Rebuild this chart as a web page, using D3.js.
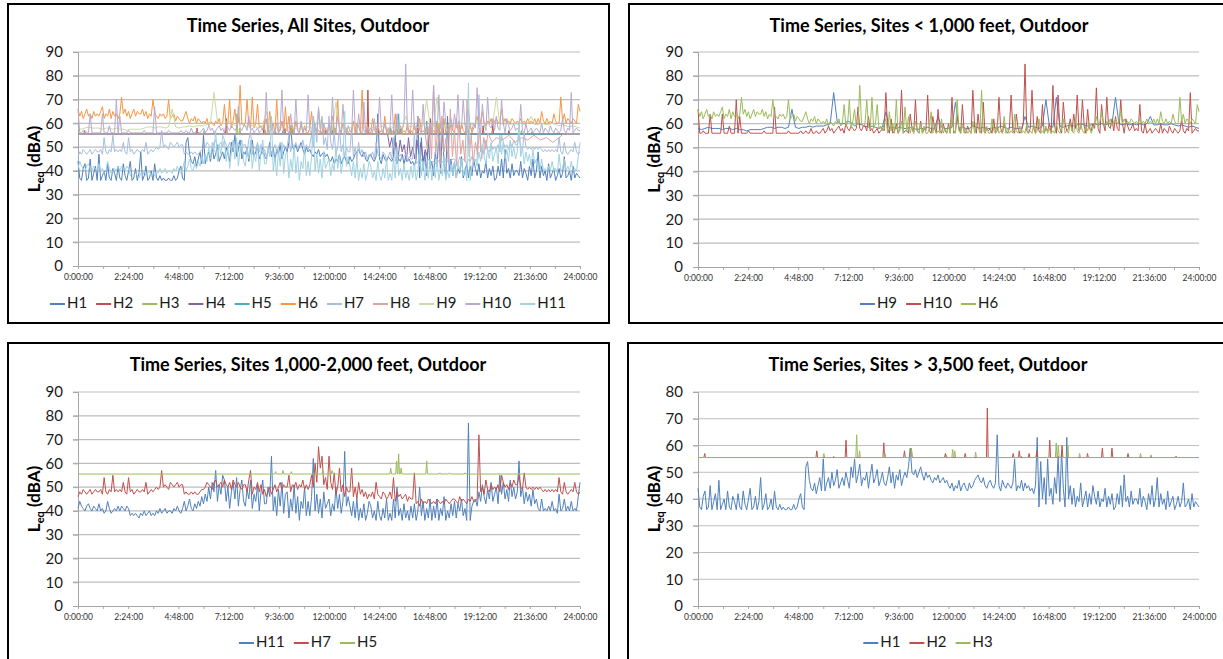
<!DOCTYPE html>
<html><head><meta charset="utf-8">
<script src="https://cdn.jsdelivr.net/npm/d3@7"></script>
<style>body{margin:0;background:#fff}svg{display:block}</style>
</head><body>
<svg id="c" width="1223" height="659"></svg>
<script>
// ---------------- DATA ----------------
const timeLabels = ["0:00:00","2:24:00","4:48:00","7:12:00","9:36:00","12:00:00","14:24:00","16:48:00","19:12:00","21:36:00","24:00:00"];
const yTicks90 = [0,10,20,30,40,50,60,70,80,90];
const yTicks80 = [0,10,20,30,40,50,60,70,80];
const panelTitles = ["Time Series, All Sites, Outdoor","Time Series, Sites < 1,000 feet, Outdoor","Time Series, Sites 1,000-2,000 feet, Outdoor","Time Series, Sites > 3,500 feet, Outdoor"];
const allSites = ["H1","H2","H3","H4","H5","H6","H7","H8","H9","H10","H11"];
const sitesNear = ["H9","H10","H6"];
const sitesMid = ["H11","H7","H5"];
const sitesFar = ["H1","H2","H3"];

// 5-minute Leq values (dBA), 0:00 .. 24:00 (one row per hour)
const H1 = [
44,37,36,41,43,36,37,45,36,39,42,36,
47,36,38,40,36,43,37,36,41,39,36,42,
37,36,43,38,36,40,44,36,37,41,36,39,
48,36,38,42,36,37,40,36,43,37,36,38,
36,37,36,36,37,36,36,38,36,37,40,42,
37,36,52,54,47,44,43,46,42,45,48,43,
55,43,46,48,44,50,45,47,51,44,46,48,
45,50,47,44,52,48,55,46,49,53,45,48,
47,50,44,49,53,46,48,51,45,47,50,46,
45,48,52,46,50,44,49,47,51,45,48,50,
48,52,59,50,49,51,48,50,52,49,47,50,
48,49,47,46,48,47,49,46,47,48,46,47,
45,44,46,43,45,44,47,43,45,46,44,43,
46,44,45,47,48,49,47,46,48,45,44,46,
47,45,44,46,64,45,43,47,45,44,46,45,
44,46,55,43,45,44,47,43,46,44,45,43,
44,42,45,63,37,54,40,48,38,55,41,44,
38,48,42,56,39,58,44,37,63,40,45,38,
44,37,41,39,46,37,40,43,37,42,38,45,
41,38,43,37,40,39,44,37,41,38,42,36,
37,42,38,45,37,49,39,41,37,43,38,40,
40,38,44,37,41,39,36,42,38,45,37,40,
48,37,42,38,40,36,43,37,39,41,36,38,
41,37,39,46,37,38,40,36,42,37,39,38, 37];
const H6 = [
66,63,65,62,64,66,63,64,62,65,63,64,
63,65,67,62,64,63,66,62,65,63,64,62,
64,71,64,66,63,65,62,64,66,63,65,64,
64,66,63,65,62,64,63,70,64,63,62,64,
63,64,62,63,70,62,63,64,61,63,62,61,
61,63,65,62,60,62,61,63,60,62,61,60,
61,60,62,59,61,60,59,61,60,62,59,60,
68,59,60,70,58,61,66,59,60,76,60,59,
60,70,59,58,71,58,60,68,58,59,57,60,
62,56,65,57,60,56,70,56,57,61,56,67,
57,63,56,59,56,61,57,56,60,56,59,56,
56,58,65,56,60,56,57,56,62,56,58,56,
59,56,63,57,56,70,57,56,60,56,58,56,
57,56,61,56,60,59,56,74,57,56,59,56,
56,62,57,56,60,56,57,56,63,56,58,56,
57,56,64,57,56,59,56,57,56,60,56,57,
56,60,56,57,62,56,57,56,59,56,58,56,
57,56,60,57,56,58,62,56,57,56,60,57,
56,62,57,56,60,57,56,59,57,60,56,58,
60,63,59,61,65,60,59,61,60,62,59,61,
62,60,61,66,60,62,60,61,60,62,61,60,
61,60,62,60,61,60,62,60,61,60,62,60,
62,60,65,61,60,62,60,61,60,64,61,60,
60,71,61,64,60,62,61,60,62,61,60,68, 65];
const H7 = [
46,48,47,49,48,47,48,49,47,48,49,48,
48,49,47,54,48,47,49,48,55,48,49,48,
49,48,52,48,47,54,48,49,47,48,49,48,
48,49,48,52,47,48,49,48,49,50,49,50,
57,50,51,50,49,52,51,50,51,52,50,51,
51,47,48,47,47,48,47,48,47,47,48,49,
49,50,52,51,50,49,52,53,50,51,52,50,
53,51,50,52,49,53,51,50,52,50,49,51,
51,48,53,57,47,50,49,52,48,51,47,49,
46,48,50,47,49,51,48,50,52,49,51,50,
50,55,48,51,50,52,49,51,50,53,49,51,
49,51,55,50,60,52,67,58,63,51,54,49,
63,52,49,56,47,50,58,48,51,46,50,48,
48,58,46,50,45,52,47,49,46,48,45,47,
46,48,45,52,47,46,45,48,47,45,46,48,
45,54,44,48,46,47,45,46,47,44,46,45,
45,56,43,44,42,45,43,44,43,45,44,43,
44,43,45,44,43,44,43,45,44,43,44,45,
45,44,43,46,44,45,44,43,45,44,46,44,
44,45,72,48,50,47,53,49,48,51,49,50,
49,51,48,55,52,50,51,49,52,50,53,51,
51,55,50,49,56,50,49,50,49,50,49,50,
49,50,49,48,49,48,49,48,49,48,49,48,
54,48,47,52,48,47,48,49,48,52,48,47, 48];
const H10 = [
66,56,56,57,56,56,56,64,56,56,56,56,
56,56,64,56,56,56,59,56,56,56,70,56,
63,56,56,56,56,57,56,56,56,56,56,56,
56,56,57,56,56,56,56,56,67,56,56,56,
56,56,56,56,57,56,56,56,56,56,56,57,
56,56,57,56,56,58,56,56,57,56,56,57,
58,56,57,59,57,58,56,57,58,59,57,58,
56,60,58,57,59,58,57,58,67,58,57,59,
59,57,63,57,58,56,57,58,56,57,58,57,
73,58,56,62,56,57,60,56,58,74,56,57,
57,56,64,58,56,70,57,56,61,56,58,57,
72,57,56,63,58,56,66,57,56,60,57,56,
60,56,71,56,57,63,58,56,68,57,56,59,
57,56,74,59,56,64,57,56,69,56,58,57,
58,56,62,56,57,71,58,56,60,57,56,58,
72,57,56,64,58,56,57,60,85,57,56,58,
74,58,56,63,57,56,68,56,58,57,60,56,
76,59,56,72,58,56,69,60,57,58,62,57,
64,58,72,57,58,70,59,56,66,58,57,60,
58,75,58,56,68,60,57,71,59,58,62,57,
63,58,57,70,60,56,62,59,57,58,60,57,
58,57,68,57,56,60,56,57,58,56,57,58,
57,56,60,56,58,57,56,59,57,56,58,57,
56,57,62,57,56,58,57,73,56,57,58,57, 57];
const H11 = [
41,44,42,41,40,42,43,41,40,42,41,40,
43,40,41,39,40,44,41,39,40,41,40,42,
40,42,41,40,42,41,38,39,38,39,38,37,
39,38,40,38,39,40,38,39,38,40,39,41,
39,40,41,39,40,40,39,41,40,42,40,39,
41,44,40,42,45,41,40,43,41,44,42,46,
43,47,44,50,45,52,48,57,44,51,47,55,
53,44,50,41,48,52,45,54,42,49,53,44,
42,49,45,53,41,47,44,51,40,48,53,43,
43,50,46,63,40,46,38,49,42,52,39,47,
48,37,45,40,51,39,46,36,44,41,50,38,
44,38,46,62,40,47,39,45,37,48,41,43,
45,38,43,40,50,41,47,39,44,65,42,46,
42,38,44,37,45,36,41,37,43,36,39,44,
42,37,40,36,44,38,36,41,37,45,36,39,
36,45,37,50,38,41,36,43,37,40,36,42,
37,43,36,40,50,38,44,36,41,37,45,36,
42,37,45,36,41,38,46,36,40,37,43,38,
44,37,43,40,45,38,41,36,77,36,42,44,
45,42,48,44,51,46,43,49,45,52,44,47,
50,43,55,47,52,45,49,44,53,46,50,45,
48,61,46,50,43,48,44,47,42,49,43,45,
41,40,45,40,41,40,42,40,44,40,41,39,
47,40,41,45,40,42,40,44,40,41,40,46, 52];
// 10-minute Leq values (dBA)
const H9 = [
58,57.5,58,58.5,58,58, 58,57.5,58,58,57.5,58, 57.5,57.5,57,57.5,57.5,57.5, 57.5,58,58.5,58.5,58,58.5,
58.5,58,58.5,66,58.5,58, 58.5,58.5,59,58.5,59,59, 59,59.5,60,73,61,60, 60,61,60.5,59,60,59.5,
59,58.5,59,58.5,58,58.5, 65,58,58.5,58,58.5,58, 58,58.5,58,57.5,58,58, 58.5,58,58,63,58.5,58,
58,58.5,69,58,58.5,58, 58,59,58.5,58,58.5,58, 58,58.5,58,59,58.5,58, 58.5,58,58,58,63,58.5,
59,58.5,58,59,70,59, 58.5,71,59,58.5,59,59.5, 59,59.5,60,59.5,59,59.5, 60,59.5,60,59.5,60,60,
71,60,59.5,60,59.5,60, 59.5,60,59.5,60,63,59.5, 59.5,60,59.5,59.5,60,59.5, 59,59.5,59,58.5,59,58.5, 58];

// [hour, dBA] points read as polylines
const H4 = [[0,55.5],[14.8,55.5],[14.9,50],[15.0,54],[15.1,47],[15.2,52],[15.3,45],[15.4,53],[15.5,48],[15.6,51],[15.7,44],[15.8,54],[15.9,46],[16.0,50],[16.1,45],[16.2,53],[16.3,47],[16.4,52],[16.5,44],[16.6,49],[16.7,46],[16.8,55.5],[24,55.5]];
const H8 = [[0,55.5],[16.6,55.5],[16.7,49],[16.8,60],[16.9,45],[17.0,76],[17.1,47],[17.2,58],[17.3,43],[17.4,63],[17.5,48],[17.6,54],[17.7,44],[17.8,66],[17.9,46],[18.0,57],[18.1,42],[18.2,61],[18.3,47],[18.4,53],[18.5,44],[18.6,70],[18.7,46],[18.8,55],[18.9,43],[19.0,52],[19.1,47],[19.2,58],[19.3,45],[19.4,54],[19.5,49],[19.6,56],[19.8,52],[20.0,54],[20.3,53],[20.6,55],[20.9,52],[21.2,54],[21.5,53],[21.8,55],[22.1,53],[22.4,54],[22.7,52],[23.0,54],[23.2,55.5],[24,55.5]];

// flat sites: baseline level + short events [hour, dBA]
const H2_base = 55.5;
const H2_events = [[0.32,57],[5.69,58],[7.09,62],[8.9,61],[9.89,58],[10.22,59],[11.85,57],[12.8,57],[13.86,74],[15.1,57],[15.39,58],[15.86,57],[16.23,58],[16.85,62],[17.44,60],[18.66,57],[19.37,59],[19.83,59],[20.6,57],[22.9,56]];
const H3_base = 55.5;
const H3_events = [[6.03,57],[6.5,56],[7.6,64],[7.74,58],[8.96,57],[10.22,59],[11.9,56.5],[12.2,58.5],[12.3,58],[13.3,57.5],[15.5,56],[17.16,61],[17.26,60],[17.72,60],[18.28,57],[21.2,57],[21.7,56.5]];
const H5_base = 55.5;
const H5_events = [[9.45,56.5],[9.8,57],[10.2,56.5],[11.7,57],[12.15,57],[14.95,58],[15.23,61],[15.33,64],[15.45,58],[16.67,61],[17.3,56],[17.76,56],[18.5,56]];

// ---------------- BUILD ----------------
const gridPts = (arr, perHour) => arr.map((v,i)=>[i/perHour, v]);
const eventPts = (base, ev) => {
  const p = [[0,base]];
  ev.forEach(([t,v]) => { p.push([t-0.04,base],[t,v],[t+0.04,base]); });
  p.push([24,base]);
  return p;
};
const seriesData = {
  H1: gridPts(H1,12), H2: eventPts(H2_base,H2_events), H3: eventPts(H3_base,H3_events),
  H4: H4, H5: eventPts(H5_base,H5_events), H6: gridPts(H6,12), H7: gridPts(H7,12),
  H8: H8, H9: gridPts(H9,6), H10: gridPts(H10,12), H11: gridPts(H11,12)
};
const allColors = {H1:"#4F81BD",H2:"#C0504D",H3:"#9BBB59",H4:"#8064A2",H5:"#4BACC6",H6:"#F79646",
  H7:"#A7BEDE",H8:"#DFA3A2",H9:"#C8DBA3",H10:"#B8AAD0",H11:"#9FD2E2"};
const std3 = ["#4F81BD","#C0504D","#9BBB59"];

const panels = [
  {box:[8,4,601,319], px:[78,580], py:[266,52], yTicks:yTicks90, titleY:27, legY:304, sites:allSites, colors:allSites.map(s=>allColors[s])},
  {box:[629,4,610,319], px:[698,1199], py:[267,52], yTicks:yTicks90, titleY:27, legY:304, sites:sitesNear, colors:std3},
  {box:[8,343,601,330], px:[78,580], py:[606,392], yTicks:yTicks90, titleY:366, legY:643, sites:sitesMid, colors:std3},
  {box:[628,343,610,330], px:[698,1199], py:[606,392], yTicks:yTicks80, titleY:366, legY:643, sites:sitesFar, colors:std3}
];

const svg = d3.select("#c");
const FONT = "Lato, 'Open Sans', sans-serif";

panels.forEach((P, pi) => {
  const g = svg.append("g");
  const [bx,by,bw,bh] = P.box;
  g.append("rect").attr("x",bx).attr("y",by).attr("width",bw).attr("height",bh)
    .attr("fill","#fff").attr("stroke","#000").attr("stroke-width",2);

  const yMax = P.yTicks[P.yTicks.length-1];
  const x = d3.scaleLinear().domain([0,24]).range(P.px);
  const y = d3.scaleLinear().domain([0,yMax]).range(P.py);

  // gridlines
  g.append("g").selectAll("line").data(P.yTicks.filter(d=>d>0)).join("line")
    .attr("x1",P.px[0]-5).attr("x2",P.px[1]).attr("y1",d=>y(d)).attr("y2",d=>y(d))
    .attr("stroke","#BEBEBE").attr("stroke-width",1.2);

  // y axis
  const ya = g.append("g").attr("transform",`translate(${P.px[0]},0)`)
    .call(d3.axisLeft(y).tickValues(P.yTicks).tickSize(5).tickPadding(10));
  ya.select(".domain").attr("stroke","#A6A6A6");
  ya.selectAll(".tick line").attr("stroke","#A6A6A6");
  ya.selectAll("text").attr("font-family",FONT).attr("font-size",15).attr("fill","#1a1a1a");

  // x axis
  const xt = d3.range(21).map(i=>i*1.2);
  const xa = g.append("g").attr("transform",`translate(0,${P.py[0]})`)
    .call(d3.axisBottom(x).tickValues(xt).tickSize(3).tickPadding(5)
      .tickFormat((d,i)=> i%2===0 ? timeLabels[i/2] : ""));
  xa.select(".domain").attr("stroke","#A6A6A6");
  xa.selectAll(".tick line").attr("stroke","#A6A6A6");
  xa.selectAll("text").attr("font-family",FONT).attr("font-size",8.5).attr("fill","#333");

  // series
  const line = d3.line().x(d=>x(d[0])).y(d=>y(d[1]));
  P.sites.forEach((s,si) => {
    g.append("path").datum(seriesData[s]).attr("d",line)
      .attr("fill","none").attr("stroke",P.colors[si]).attr("stroke-width",1)
      .attr("stroke-linejoin","round");
  });

  // title
  g.append("text").attr("x",bx + 300).attr("y",P.titleY)
    .attr("text-anchor","middle").attr("dominant-baseline","middle")
    .attr("font-family",FONT).attr("font-weight","bold").attr("font-size",18).attr("fill","#000")
    .text(panelTitles[pi]);

  // y title
  const yt = g.append("text")
    .attr("transform",`translate(${P.px[0]-38},${(P.py[0]+P.py[1])/2}) rotate(-90)`)
    .attr("text-anchor","middle").attr("font-family",FONT).attr("font-weight","bold")
    .attr("font-size",17).attr("fill","#000");
  yt.append("tspan").text("L");
  yt.append("tspan").attr("font-size",11).attr("dy",4).text("eq");
  yt.append("tspan").attr("dy",-4).text(" (dBA)");

  // legend
  const lg = g.append("g");
  let cx = 0;
  P.sites.forEach((s,si) => {
    const it = lg.append("g").attr("transform",`translate(${cx},0)`);
    it.append("line").attr("x1",0).attr("x2",15).attr("y1",0).attr("y2",0)
      .attr("stroke",P.colors[si]).attr("stroke-width",2);
    const t = it.append("text").attr("x",17).attr("y",0).attr("dominant-baseline","middle")
      .attr("font-family",FONT).attr("font-size",15).attr("fill","#1a1a1a").text(s);
    cx += 17 + t.node().getComputedTextLength() + 9;
  });
  cx -= 9;
  lg.attr("transform",`translate(${bx + 300 - cx/2},${P.legY})`);
});
</script>
</body></html>
